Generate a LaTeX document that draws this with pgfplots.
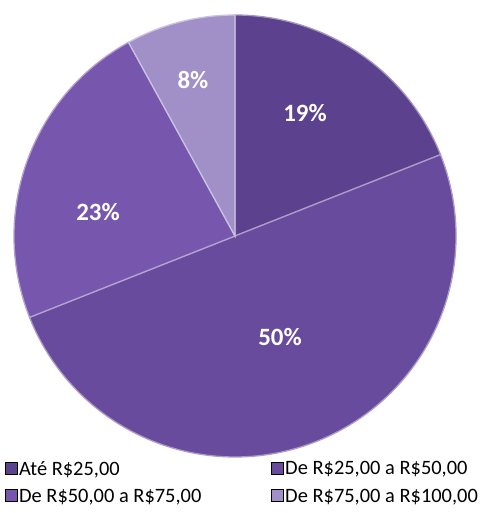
\documentclass[border=0pt]{standalone}
\usepackage{pgfplots}
\pgfplotsset{compat=1.18}
\usepackage{fontspec}
\setmainfont{Carlito}
\definecolor{sA}{HTML}{5C418E}
\definecolor{sB}{HTML}{684B9C}
\definecolor{sC}{HTML}{7756AD}
\definecolor{sD}{HTML}{A18FC8}

% share (%) / colour / label x / label y  (pixel units, y up)
\def\piedata{19/sA/305/400, 50/sB/280/176, 23/sC/98/301, 8/sD/193/433}

\begin{document}
\begin{tikzpicture}
\useasboundingbox (0,0) rectangle (487bp,513bp);
\begin{axis}[
  at={(0,0)}, anchor=south west,
  scale only axis, width=487bp, height=513bp,
  xmin=0, xmax=487, ymin=0, ymax=513,
  hide axis, clip=false,
  legend columns=2,
  legend cell align=left,
  legend style={at={(axis cs:5,54)}, anchor=north west,
    draw=none, fill=none, inner sep=0pt,
    font=\fontsize{20.5}{25}\selectfont,
    nodes={inner xsep=1.5bp, inner ysep=2bp},
    row sep=8.5bp,
    /tikz/every even column/.append style={column sep=68.5bp}},
  legend image code/.code={
    \fill[#1] (0bp,-5bp) rectangle (12bp,7bp);},
]
\addlegendimage{fill=sA}\addlegendentry{Até R\$25,00}
\addlegendimage{fill=sB}\addlegendentry{De R\$25,00 a R\$50,00}
\addlegendimage{fill=sC}\addlegendentry{De R\$50,00 a R\$75,00}
\addlegendimage{fill=sD}\addlegendentry{De R\$75,00 a R\$100,00}

\foreach \v/\c/\lx/\ly [remember=\e as \s (initially 90)] in \piedata {
  \pgfmathsetmacro\e{\s-3.6*\v}
  \edef\tmp{\noexpand\fill[\c, draw=white!45!\c, line width=1.3bp]
    (axis cs:235,277) -- ++(\s:221bp)
    arc[start angle=\s, end angle=\e, radius=221bp] -- cycle;
    \noexpand\node[text=white, font=\noexpand\fontsize{25}{30}\noexpand\bfseries]
    at (axis cs:\lx,\ly) {\v\noexpand\%};}
  \tmp
}
\end{axis}
\end{tikzpicture}
\end{document}
